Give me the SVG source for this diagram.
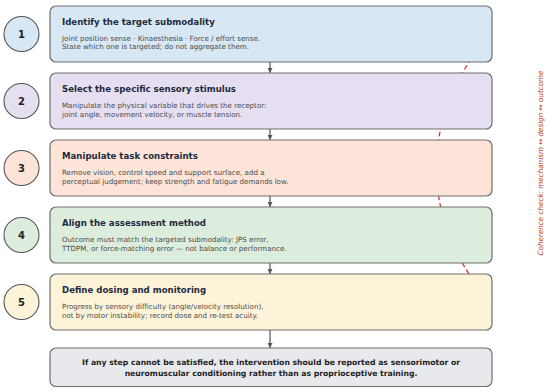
<svg xmlns="http://www.w3.org/2000/svg" width="550" height="392" viewBox="0 0 550 392">
<defs>
<style>
.box{stroke:#6e6e6e;stroke-width:1.2}
.circ{stroke:#555;stroke-width:1.1}
.num{font-family:"DejaVu Sans",sans-serif;font-weight:bold;font-size:10px;fill:#222;text-anchor:middle}
.ttl{font-family:"DejaVu Sans",sans-serif;font-weight:bold;font-size:8.6px;fill:#1f2b3e}
.body{font-family:"DejaVu Sans",sans-serif;font-size:7.1px;fill:#4a4a4a}
.fin{font-family:"DejaVu Sans",sans-serif;font-weight:bold;font-size:7.7px;fill:#1e1e1e;text-anchor:middle}
.conn{stroke:#555;stroke-width:1.2;fill:none}
.note{font-family:"DejaVu Sans",sans-serif;font-style:italic;font-size:7.2px;fill:#c0392b;text-anchor:middle}
</style>
<marker id="ah" viewBox="0 0 10 10" refX="10" refY="5" markerWidth="5" markerHeight="5" orient="auto" markerUnits="userSpaceOnUse">
<path d="M0,0 L10,5 L0,10 Z" fill="#555"/>
</marker>
</defs>
<rect width="550" height="392" fill="#fff"/>
<g id="coherence">
<path d="M492,34 C418,110 418,226 492,302" fill="none" stroke="#cc2a2a" stroke-width="1.2" stroke-dasharray="5,3"/>
</g>
<g id="connectors">
<line class="conn" x1="270" y1="62" x2="270" y2="73" marker-end="url(#ah)"/>
<line class="conn" x1="270" y1="129" x2="270" y2="140" marker-end="url(#ah)"/>
<line class="conn" x1="270" y1="196" x2="270" y2="207" marker-end="url(#ah)"/>
<line class="conn" x1="270" y1="263" x2="270" y2="274" marker-end="url(#ah)"/>
<line class="conn" x1="270" y1="330" x2="270" y2="348" marker-end="url(#ah)"/>
</g>
<g id="step1">
<circle class="circ" cx="21.5" cy="34" r="17.5" fill="#d8e7f4"/>
<text class="num" x="21.5" y="37.5">1</text>
<rect class="box" x="50" y="6" width="442" height="56" rx="6" fill="#d8e7f4"/>
<text class="ttl" x="62" y="25">Identify the target submodality</text>
<text class="body" x="62" y="40.5">Joint position sense · Kinaesthesia · Force / effort sense.</text>
<text class="body" x="62" y="48.5">State which one is targeted; do not aggregate them.</text>
</g>
<g id="step2">
<circle class="circ" cx="21.5" cy="101" r="17.5" fill="#e6dff1"/>
<text class="num" x="21.5" y="104.5">2</text>
<rect class="box" x="50" y="73" width="442" height="56" rx="6" fill="#e6dff1"/>
<text class="ttl" x="62" y="92">Select the specific sensory stimulus</text>
<text class="body" x="62" y="108">Manipulate the physical variable that drives the receptor:</text>
<text class="body" x="62" y="116.5">joint angle, movement velocity, or muscle tension.</text>
</g>
<g id="step3">
<circle class="circ" cx="21.5" cy="168" r="17.5" fill="#fce4d8"/>
<text class="num" x="21.5" y="171.5">3</text>
<rect class="box" x="50" y="140" width="442" height="56" rx="6" fill="#fce4d8"/>
<text class="ttl" x="62" y="159">Manipulate task constraints</text>
<text class="body" x="62" y="175">Remove vision, control speed and support surface, add a</text>
<text class="body" x="62" y="183.5">perceptual judgement; keep strength and fatigue demands low.</text>
</g>
<g id="step4">
<circle class="circ" cx="21.5" cy="235" r="17.5" fill="#ddeddd"/>
<text class="num" x="21.5" y="238.5">4</text>
<rect class="box" x="50" y="207" width="442" height="56" rx="6" fill="#ddeddd"/>
<text class="ttl" x="62" y="226">Align the assessment method</text>
<text class="body" x="62" y="242">Outcome must match the targeted submodality: JPS error,</text>
<text class="body" x="62" y="250.5">TTDPM, or force-matching error — not balance or performance.</text>
</g>
<g id="step5">
<circle class="circ" cx="21.5" cy="302" r="17.5" fill="#fdf3d8"/>
<text class="num" x="21.5" y="305.5">5</text>
<rect class="box" x="50" y="274" width="442" height="56" rx="6" fill="#fdf3d8"/>
<text class="ttl" x="62" y="293">Define dosing and monitoring</text>
<text class="body" x="62" y="309">Progress by sensory difficulty (angle/velocity resolution),</text>
<text class="body" x="62" y="317.5">not by motor instability; record dose and re-test acuity.</text>
</g>
<g id="conclusion">
<rect class="box" x="50" y="348" width="442" height="38.5" rx="6" fill="#e8e9ed"/>
<text class="fin" x="271" y="364.5">If any step cannot be satisfied, the intervention should be reported as sensorimotor or</text>
<text class="fin" x="271" y="375.5">neuromuscular conditioning rather than as proprioceptive training.</text>
</g>
<g id="coherence-label">
<text class="note" transform="translate(543,163) rotate(-90)">Coherence check: mechanism ↔ design ↔ outcome</text>
</g>
</svg>
